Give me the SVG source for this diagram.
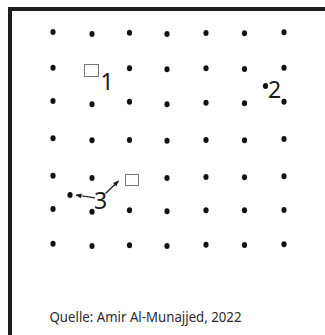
<svg xmlns="http://www.w3.org/2000/svg" width="325" height="335" viewBox="0 0 325 335">
<defs>
<style>
.dot{fill:#111}
ellipse{rx:2.6px;ry:3px}
.sq{fill:#fff;stroke:#777;stroke-width:1}
.lbl{font-family:"Noto Sans","Open Sans",sans-serif;font-size:23px;fill:#1a1a1a}
.cap{font-family:"Noto Sans","Open Sans",sans-serif;font-size:14.5px;fill:#2a2a2a}
.arr{stroke:#1a1a1a;stroke-width:1.2;fill:none}
</style>
<marker id="ah" viewBox="0 0 10 10" refX="9" refY="5" markerWidth="6" markerHeight="6" markerUnits="userSpaceOnUse" orient="auto">
<path d="M0,1 L10,5 L0,9 Z" fill="#1a1a1a"/>
</marker>
</defs>
<rect width="325" height="335" fill="#fff"/>
<path id="frame" d="M10,340 L10,9 L330,9" fill="none" stroke="#1e1e1e" stroke-width="4"/>
<g id="grid">
<ellipse class="dot" cx="53" cy="32" rx="2.6" ry="3"/><ellipse class="dot" cx="92" cy="34" rx="2.6" ry="3"/><ellipse class="dot" cx="129.5" cy="32.7" rx="2.6" ry="3"/><ellipse class="dot" cx="167" cy="34" rx="2.6" ry="3"/><ellipse class="dot" cx="206" cy="33" rx="2.6" ry="3"/><ellipse class="dot" cx="244.5" cy="33.3" rx="2.6" ry="3"/><ellipse class="dot" cx="284" cy="32.3" rx="2.6" ry="3"/>
<ellipse class="dot" cx="53" cy="67.7" rx="2.6" ry="3"/><ellipse class="dot" cx="129.5" cy="68.3" rx="2.6" ry="3"/><ellipse class="dot" cx="167" cy="69.3" rx="2.6" ry="3"/><ellipse class="dot" cx="206" cy="68.3" rx="2.6" ry="3"/><ellipse class="dot" cx="244.5" cy="69" rx="2.6" ry="3"/><ellipse class="dot" cx="284" cy="67.7" rx="2.6" ry="3"/>
<ellipse class="dot" cx="53" cy="101" rx="2.6" ry="3"/><ellipse class="dot" cx="92" cy="104.3" rx="2.6" ry="3"/><ellipse class="dot" cx="129.5" cy="101.7" rx="2.6" ry="3"/><ellipse class="dot" cx="167" cy="104.3" rx="2.6" ry="3"/><ellipse class="dot" cx="206" cy="102.7" rx="2.6" ry="3"/><ellipse class="dot" cx="244.5" cy="103.3" rx="2.6" ry="3"/><ellipse class="dot" cx="284" cy="101.7" rx="2.6" ry="3"/>
<ellipse class="dot" cx="53" cy="138.3" rx="2.6" ry="3"/><ellipse class="dot" cx="92" cy="140.3" rx="2.6" ry="3"/><ellipse class="dot" cx="129.5" cy="140" rx="2.6" ry="3"/><ellipse class="dot" cx="167" cy="140.7" rx="2.6" ry="3"/><ellipse class="dot" cx="206" cy="140" rx="2.6" ry="3"/><ellipse class="dot" cx="244.5" cy="140.3" rx="2.6" ry="3"/><ellipse class="dot" cx="284" cy="139" rx="2.6" ry="3"/>
<ellipse class="dot" cx="53" cy="175.7" rx="2.6" ry="3"/><ellipse class="dot" cx="92" cy="178" rx="2.6" ry="3"/><ellipse class="dot" cx="167" cy="178" rx="2.6" ry="3"/><ellipse class="dot" cx="206" cy="177" rx="2.6" ry="3"/><ellipse class="dot" cx="244.5" cy="177.3" rx="2.6" ry="3"/><ellipse class="dot" cx="284" cy="176.3" rx="2.6" ry="3"/>
<ellipse class="dot" cx="53" cy="209" rx="2.6" ry="3"/><ellipse class="dot" cx="92" cy="211.7" rx="2.6" ry="3"/><ellipse class="dot" cx="129.5" cy="210.3" rx="2.6" ry="3"/><ellipse class="dot" cx="167" cy="211.3" rx="2.6" ry="3"/><ellipse class="dot" cx="206" cy="210.3" rx="2.6" ry="3"/><ellipse class="dot" cx="244.5" cy="210.3" rx="2.6" ry="3"/><ellipse class="dot" cx="284" cy="210" rx="2.6" ry="3"/>
<ellipse class="dot" cx="53" cy="243.7" rx="2.6" ry="3"/><ellipse class="dot" cx="92" cy="246" rx="2.6" ry="3"/><ellipse class="dot" cx="129.5" cy="245.3" rx="2.6" ry="3"/><ellipse class="dot" cx="167" cy="246" rx="2.6" ry="3"/><ellipse class="dot" cx="206" cy="244.7" rx="2.6" ry="3"/><ellipse class="dot" cx="244.5" cy="245" rx="2.6" ry="3"/><ellipse class="dot" cx="284" cy="244.3" rx="2.6" ry="3"/>
</g>
<g id="node1">
<rect class="sq" x="84.5" y="64.5" width="14" height="12"/>
<text class="lbl" x="100.5" y="89.5">1</text>
</g>
<g id="node2">
<ellipse class="dot" cx="265.5" cy="86" rx="2.6" ry="3"/>
<text class="lbl" x="268" y="97.5">2</text>
</g>
<g id="node3">
<ellipse class="dot" cx="70" cy="195" rx="2.6" ry="3"/>
<rect class="sq" x="125.5" y="174.5" width="13" height="11"/>
<text class="lbl" x="94" y="208.5">3</text>
</g>
<g id="connectors">
<line class="arr" x1="95" y1="197.8" x2="76" y2="195" marker-end="url(#ah)"/>
<line class="arr" x1="105.5" y1="193.5" x2="118.5" y2="181" marker-end="url(#ah)"/>
</g>
<text id="caption" class="cap" x="49.5" y="322" textLength="192" lengthAdjust="spacingAndGlyphs">Quelle: Amir Al-Munajjed, 2022</text>
</svg>
